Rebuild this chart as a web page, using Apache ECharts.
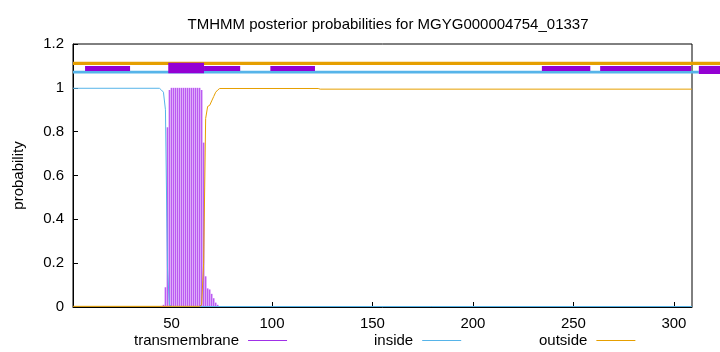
<!DOCTYPE html>
<html>
<head>
<meta charset="utf-8">
<script src="https://cdn.jsdelivr.net/npm/echarts@6/dist/echarts.min.js"></script>
<style>html,body{margin:0;padding:0;background:#fff}#c{width:720px;height:352px}</style>
</head>
<body>
<div id="c"></div>
<script>
// ---- data ----
const titleText = 'TMHMM posterior probabilities for MGYG000004754_01337';
const seriesNames = ['transmembrane', 'inside', 'outside'];
const xTicks = [50, 100, 150, 200, 250, 300];
const yTicks = [0, 0.2, 0.4, 0.6, 0.8, 1, 1.2];
const yTickLabels = ['0', '0.2', '0.4', '0.6', '0.8', '1', '1.2'];

// transmembrane posterior (impulses), residues with non-zero probability
const tmResidues = [45, 46, 47, 48, 49, 50, 51, 52, 53, 54, 55, 56, 57, 58, 59, 60, 61, 62, 63, 64, 65, 66, 67, 68, 69, 70, 71, 72, 73];
const tmProb     = [0.005, 0.01, 0.09, 0.82, 0.99, 1, 1, 1, 1, 1, 1, 1, 1, 1, 1, 1, 1, 1, 1, 1, 0.99, 0.75, 0.14, 0.085, 0.08, 0.06, 0.04, 0.02, 0.01];

// inside posterior (line through read points)
const inResidues = [1, 44, 45, 46, 47, 48, 49, 50, 309];
const inProb     = [0.998, 0.998, 0.99, 0.98, 0.9, 0.18, 0.01, 0.002, 0.002];

// outside posterior (line through read points)
const outResidues = [1, 64, 65, 66, 67, 68, 69, 70, 71, 72, 73, 74, 123, 124, 309];
const outProb     = [0.003, 0.003, 0.01, 0.2, 0.86, 0.915, 0.92, 0.94, 0.96, 0.98, 0.99, 0.997, 0.997, 0.994, 0.994];

// top topology bars: [start, end, low, high]
const outsideBar = [[1, 323, 1.104, 1.119]];
const insideBar  = [[1, 312.4, 1.065, 1.078]];
const tmBars     = [[48.4, 66.2, 1.066, 1.115], [7, 29.4, 1.077, 1.1], [66.2, 84.2, 1.077, 1.1],
                    [99.2, 121.4, 1.077, 1.1], [234.3, 258.4, 1.077, 1.1], [263.3, 308.5, 1.077, 1.1],
                    [312.4, 323, 1.063, 1.1]];

const colTM = '#9400d3', colImp = '#bb5cf2', colLegTM = '#a030e8', colIn = '#56b4e9', colOut = '#e69f00';
const font = "'Liberation Sans', Arial, sans-serif";

function zip(a, b) { return a.map((v, i) => [v, b[i]]); }
function rectRender(color) {
  return function (params, api) {
    const p0 = api.coord([api.value(0), api.value(3)]);
    const p1 = api.coord([api.value(1), api.value(2)]);
    return { type: 'rect', shape: { x: p0[0], y: p0[1], width: p1[0] - p0[0], height: p1[1] - p0[1] }, style: { fill: color } };
  };
}

const chart = echarts.init(document.getElementById('c'), null, { renderer: 'canvas' });
const legendBase = {
  orient: 'horizontal', align: 'right', icon: 'rect', itemWidth: 39, itemHeight: 1, padding: 0,
  textStyle: { fontFamily: font, fontSize: 15, color: '#000', padding: [0, 4, 0, 0] },
  selectedMode: false, top: 333
};
chart.setOption({
  animation: false,
  title: { text: titleText, left: 383, textAlign: 'center', top: 12,
           textStyle: { fontFamily: font, fontSize: 15, fontWeight: 'normal', color: '#000' } },
  grid: { left: 73, right: 28, top: 44, bottom: 45, show: true, borderColor: '#000', borderWidth: 1, backgroundColor: 'transparent' },
  legend: [
    Object.assign({}, legendBase, { data: [{ name: seriesNames[0], itemStyle: { color: colLegTM } }], left: 134 }),
    Object.assign({}, legendBase, { data: [{ name: seriesNames[1], itemStyle: { color: colIn } }], left: 374 }),
    Object.assign({}, legendBase, { data: [{ name: seriesNames[2], itemStyle: { color: colOut } }], left: 539 })
  ],
  xAxis: {
    type: 'value', min: 1, max: 309,
    axisLine: { show: true, lineStyle: { color: '#000', width: 1 } },
    axisTick: { show: true, inside: true, length: 5, customValues: xTicks, lineStyle: { color: '#000' } },
    axisLabel: { customValues: xTicks, margin: 9, fontFamily: font, fontSize: 15, color: '#000' },
    splitLine: { show: false }
  },
  yAxis: {
    type: 'value', min: 0, max: 1.2, interval: 0.2,
    name: 'probability', nameLocation: 'middle', nameGap: 47, nameRotate: 90,
    nameTextStyle: { fontFamily: font, fontSize: 15, color: '#000' },
    axisLine: { show: true, lineStyle: { color: '#000', width: 1 } },
    axisTick: { show: true, inside: true, length: 5, lineStyle: { color: '#000' } },
    axisLabel: { margin: 9, fontFamily: font, fontSize: 15, color: '#000',
                 formatter: function (v) { const i = yTicks.findIndex(t => Math.abs(t - v) < 1e-9); return i >= 0 ? yTickLabels[i] : ''; } },
    splitLine: { show: false }
  },
  series: [
    { name: seriesNames[0], type: 'bar', barWidth: 1.6, itemStyle: { color: colImp }, data: zip(tmResidues, tmProb), z: 3 },
    { name: seriesNames[1], type: 'line', showSymbol: false, symbol: 'none', lineStyle: { color: colIn, width: 1 }, itemStyle: { color: colIn }, data: zip(inResidues, inProb), z: 4 },
    { name: seriesNames[2], type: 'line', showSymbol: false, symbol: 'none', lineStyle: { color: colOut, width: 1 }, itemStyle: { color: colOut }, data: zip(outResidues, outProb), z: 4 },
    { type: 'custom', clip: false, silent: true, renderItem: rectRender(colOut), data: outsideBar, z: 5 },
    { type: 'custom', clip: false, silent: true, renderItem: rectRender(colIn), data: insideBar, z: 5 },
    { type: 'custom', clip: false, silent: true, renderItem: rectRender(colTM), data: tmBars, z: 6 }
  ]
});
</script>
</body>
</html>
